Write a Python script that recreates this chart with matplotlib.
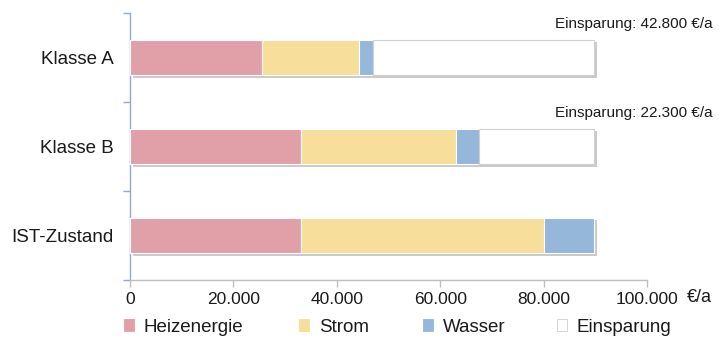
import matplotlib
matplotlib.use("Agg")
import matplotlib.pyplot as plt
import matplotlib.patheffects as pe
import matplotlib.transforms as mtransforms
from matplotlib.patches import Patch
from matplotlib.ticker import FuncFormatter, FixedLocator

plt.rcParams['font.family'] = ['Liberation Sans', 'DejaVu Sans']

# Annual costs in €/a per scenario (bottom to top)
categories = ["IST-Zustand", "Klasse B", "Klasse A"]
heizenergie = [33000, 33000, 25500]
strom = [47100, 30000, 18700]
wasser = [9700, 4500, 2800]
einsparung = [0, 22300, 42800]
savings_labels = ["", "Einsparung: 22.300 €/a", "Einsparung: 42.800 €/a"]
x_ticks = [0, 20000, 40000, 60000, 80000, 100000]

series = [
    ("Heizenergie", heizenergie, "#E19FA8", "white"),
    ("Strom", strom, "#F7DE9B", "white"),
    ("Wasser", wasser, "#95B7D9", "white"),
    ("Einsparung", einsparung, "#FFFFFF", "#CFCFCF"),
]

fig = plt.figure(figsize=(7.2, 3.4), dpi=100)
ax = fig.add_axes([130 / 720, 1 - 280 / 340, (647 - 130) / 720, (280 - 13) / 340])

shadow = [pe.SimplePatchShadow(offset=(2, -2), shadow_rgbFace="#8a8a8a", alpha=0.45), pe.Normal()]
pos = list(range(len(categories)))
left = [0] * len(categories)
for name, vals, color, edge in series:
    bars = ax.barh(pos, vals, left=left, height=0.4, color=color,
                   edgecolor=edge, linewidth=0.8, zorder=3)
    for b, v in zip(bars, vals):
        if v > 0:
            b.set_path_effects(shadow)
        else:
            b.set_visible(False)
    left = [l + v for l, v in zip(left, vals)]

ax.set_xlim(0, 100000)
ax.set_ylim(-0.5, 2.5)

# Savings labels above bars, right-aligned near the figure edge
trans = mtransforms.blended_transform_factory(fig.transFigure, ax.transData)
for p, lab in zip(pos, savings_labels):
    if lab:
        ax.text(713 / 720, p + 0.38, lab, transform=trans, ha="right", va="center",
                fontsize=11, color="#1a1a1a", clip_on=False)

# Axes styling
for s in ["top", "right"]:
    ax.spines[s].set_visible(False)
ax.spines["left"].set_color("#8FAAD0")
ax.spines["left"].set_linewidth(1.0)
ax.spines["bottom"].set_color("#BFBFBF")
ax.spines["bottom"].set_linewidth(1.0)

ax.yaxis.set_major_locator(FixedLocator([-0.5, 0.5, 1.5, 2.5]))
ax.yaxis.set_minor_locator(FixedLocator(pos))
ax.set_yticklabels([], minor=False)
ax.set_yticklabels(categories, minor=True, fontsize=13.5, color="#1a1a1a")
ax.tick_params(axis="y", which="major", length=5, color="#8FAAD0", width=1.0)
ax.tick_params(axis="y", which="minor", length=0, pad=12)

ax.set_xticks(x_ticks)
ax.xaxis.set_major_formatter(FuncFormatter(lambda v, _: f"{int(v):,}".replace(",", ".")))
ax.tick_params(axis="x", length=5, color="#BFBFBF", width=1.0, pad=4,
               labelsize=12.5, labelcolor="#1a1a1a")

fig.text(687 / 720, 1 - 298 / 340, "€/a", ha="left", va="center",
         fontsize=13, color="#1a1a1a")

# Legend entries placed along the bottom
leg_x = [124, 299, 423, 557]
for (name, vals, color, edge), lx in zip(series, leg_x):
    h = Patch(facecolor=color, edgecolor="#CFCFCF" if name == "Einsparung" else color, linewidth=0.6)
    lg = fig.legend([h], [name], loc="center left", bbox_to_anchor=(lx / 720, 1 - 327 / 340),
                    frameon=False, fontsize=13.5, handlelength=0.55, handleheight=0.55,
                    handletextpad=0.5, borderpad=0, borderaxespad=0)
    for t in lg.get_texts():
        t.set_color("#1a1a1a")

fig.savefig("out.png", dpi=100)
